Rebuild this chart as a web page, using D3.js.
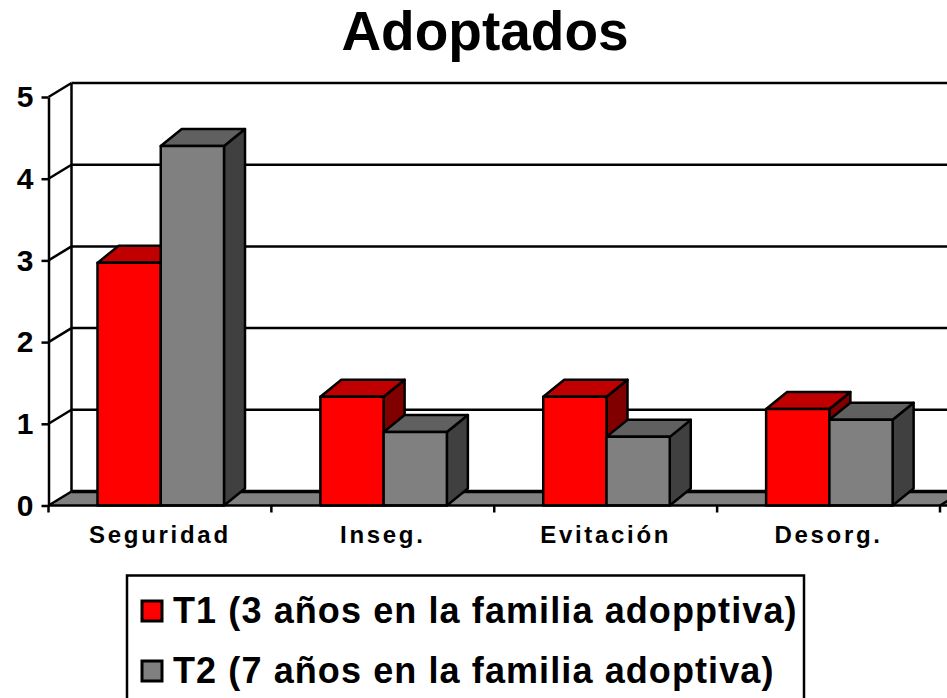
<!DOCTYPE html>
<html>
<head>
<meta charset="utf-8">
<script src="https://cdn.jsdelivr.net/npm/d3@7"></script>
<style>
  html, body { margin: 0; padding: 0; background: #fff; overflow: hidden; }
  text { font-family: "Liberation Sans", Arial, sans-serif; font-weight: bold; fill: #000; }
</style>
</head>
<body>
<div id="chart"></div>
<script>
// Values
const categories = ["Seguridad", "Inseg.", "Evitación", "Desorg."];
const seriesNames = ["T1", "T2"];
const t1Values = [2.97, 1.33, 1.33, 1.18];
const t2Values = [4.4, 0.9, 0.84, 1.05];
const legendLabels = ["T1 (3 años en la familia adopptiva)", "T2 (7 años en la familia adoptiva)"];
const yTicks = [0, 1, 2, 3, 4, 5];

const width = 947, height = 698;

const svg = d3.select("#chart")
    .append("svg")
    .attr("width", width)
    .attr("height", height);

// Scales (front plane of the 3d box)
const x0 = d3.scaleBand().domain(categories).range([48.5, 940]);
const x1 = d3.scaleBand().domain(seriesNames).range([49, 175.5]);
const y = d3.scaleLinear().domain([0, 5]).range([505.5, 97]);

// depth of the back wall and of the bars
const wallDx = 23, wallDy = -14;
const barDx = 21, barDy = -17;

const colors = {
    T1: { front: "#ff0000", top: "#c00000", side: "#800000" },
    T2: { front: "#808080", top: "#606060", side: "#404040" }
};

const line = d3.line();

// Title
svg.append("text")
    .attr("x", 485)
    .attr("y", 50)
    .attr("text-anchor", "middle")
    .style("font-size", "55px")
    .text("Adoptados");

const right = width + 30;

// Floor
svg.append("path")
    .attr("d", line([[x0.range()[0], y(0)], [x0.range()[0] + wallDx, y(0) + wallDy], [right, y(0) + wallDy], [right, y(0)]]) + "Z")
    .attr("fill", "#808080");
svg.append("path")
    .attr("d", line([[x0.range()[0] + wallDx, y(0) + wallDy], [right, y(0) + wallDy]]))
    .attr("stroke", "#000")
    .attr("stroke-width", 3.5);

// Grid lines, diagonals on the side wall
const grid = svg.append("g").attr("stroke", "#000").attr("stroke-width", 2.5).attr("fill", "none");
grid.selectAll("path.h")
    .data(yTicks.filter(d => d > 0))
    .enter()
    .append("path")
    .attr("class", "h")
    .attr("d", d => line([[x0.range()[0] + wallDx, y(d) + wallDy], [right, y(d) + wallDy]]));
grid.selectAll("path.d")
    .data(yTicks)
    .enter()
    .append("path")
    .attr("class", "d")
    .attr("d", d => line([[x0.range()[0], y(d)], [x0.range()[0] + wallDx, y(d) + wallDy]]));
grid.append("path")
    .attr("d", line([[x0.range()[0] + wallDx, y(5) + wallDy], [x0.range()[0] + wallDx, y(0) + wallDy]]));

// Right edge of the floor, cut by the window
grid.append("path")
    .attr("d", line([[x0.range()[1], y(0)], [x0.range()[1] + wallDx, y(0) + wallDy]]));

// Bars
const rows = categories.flatMap((c, i) => [
    { cat: c, s: "T1", v: t1Values[i] },
    { cat: c, s: "T2", v: t2Values[i] }
]);

const bars = svg.append("g")
    .selectAll("g")
    .data(rows)
    .enter()
    .append("g")
    .attr("stroke", "#000")
    .attr("stroke-width", 2.5)
    .attr("stroke-linejoin", "round");

const bx = d => x0(d.cat) + x1(d.s);
const bw = x1.bandwidth();

bars.append("path")
    .attr("fill", d => colors[d.s].side)
    .attr("d", d => line([
        [bx(d) + bw, y(d.v)],
        [bx(d) + bw + barDx, y(d.v) + barDy],
        [bx(d) + bw + barDx, y(0) + barDy],
        [bx(d) + bw, y(0)]
    ]) + "Z");

bars.append("path")
    .attr("fill", d => colors[d.s].top)
    .attr("d", d => line([
        [bx(d), y(d.v)],
        [bx(d) + barDx, y(d.v) + barDy],
        [bx(d) + bw + barDx, y(d.v) + barDy],
        [bx(d) + bw, y(d.v)]
    ]) + "Z");

bars.append("rect")
    .attr("x", bx)
    .attr("y", d => y(d.v))
    .attr("width", bw)
    .attr("height", d => y(0) - y(d.v))
    .attr("fill", d => colors[d.s].front);

// Axes
const yAxis = svg.append("g")
    .attr("transform", `translate(${x0.range()[0]},0)`)
    .call(d3.axisLeft(y).tickValues(yTicks).tickFormat(d3.format("d")).tickSize(7).tickPadding(8).tickSizeOuter(0));
yAxis.selectAll("line").attr("stroke", "#000").attr("stroke-width", 2.5);
yAxis.select(".domain").attr("stroke", "#000").attr("stroke-width", 2.5);
yAxis.selectAll("text")
    .style("font-size", "30px")
    .style("font-family", "'Liberation Sans', Arial, sans-serif")
    .style("font-weight", "bold");

const xAxis = svg.append("g")
    .attr("transform", `translate(0,${y(0)})`)
    .call(d3.axisBottom(x0).tickSize(0).tickPadding(20).tickSizeOuter(0));
xAxis.select(".domain").remove();
xAxis.selectAll("text")
    .style("font-size", "24px")
    .style("font-family", "'Liberation Sans', Arial, sans-serif")
    .style("font-weight", "bold")
    .style("letter-spacing", "2.7px");

svg.append("path")
    .attr("d", line([[x0.range()[0], y(0)], [width, y(0)]]))
    .attr("stroke", "#000")
    .attr("stroke-width", 2.5);

svg.append("g")
    .selectAll("line")
    .data(categories.map(c => x0(c)).concat(x0.range()[1]))
    .enter()
    .append("line")
    .attr("x1", d => d)
    .attr("x2", d => d)
    .attr("y1", y(0))
    .attr("y2", y(0) + 7)
    .attr("stroke", "#000")
    .attr("stroke-width", 2.5);

// Legend
const legend = svg.append("g");
legend.append("rect")
    .attr("x", 127)
    .attr("y", 575.5)
    .attr("width", 677)
    .attr("height", 140)
    .attr("fill", "#fff")
    .attr("stroke", "#000")
    .attr("stroke-width", 2.5);

const legendRow = legend.selectAll("g")
    .data(legendLabels)
    .enter()
    .append("g")
    .attr("transform", (d, i) => `translate(0,${611 + i * 60})`);

legendRow.append("rect")
    .attr("x", 142)
    .attr("y", -10)
    .attr("width", 20)
    .attr("height", 20)
    .attr("fill", (d, i) => colors[seriesNames[i]].front)
    .attr("stroke", "#000")
    .attr("stroke-width", 3);

legendRow.append("text")
    .attr("x", 173)
    .attr("y", 12)
    .style("font-size", "36px")
    .style("letter-spacing", "1.1px")
    .text(d => d);
</script>
</body>
</html>
